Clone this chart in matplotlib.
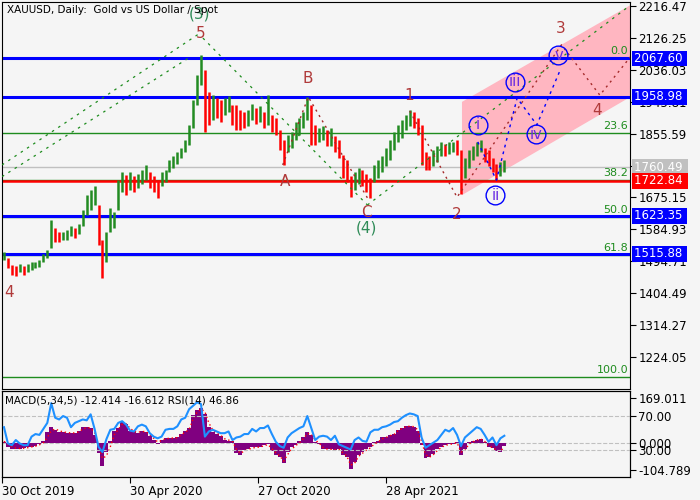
import matplotlib
matplotlib.use("Agg")
import matplotlib.pyplot as plt
import matplotlib.transforms as mtransforms
import numpy as np

# --- price blocks (every 4 trading days) ---
highs = [1521, 1504, 1485, 1482, 1487, 1482, 1487, 1493, 1493, 1499,
         1516, 1527, 1611, 1589, 1578, 1578, 1583, 1595, 1589, 1600,
         1640, 1682, 1696, 1707, 1654, 1555, 1578, 1645, 1634, 1724,
         1747, 1739, 1747, 1736, 1741, 1753, 1767, 1747, 1736, 1724,
         1747, 1753, 1781, 1792, 1803, 1815, 1837, 1880, 1950, 2021,
         2077, 2035, 1973, 1964, 1956, 1950, 1956, 1961, 1936, 1936,
         1922, 1916, 1922, 1939, 1927, 1933, 1916, 1964, 1908, 1899,
         1866, 1837, 1851, 1860, 1888, 1899, 1916, 1959, 1936, 1880,
         1871, 1877, 1866, 1871, 1849, 1837, 1795, 1781, 1736, 1747,
         1758, 1753, 1741, 1730, 1767, 1781, 1792, 1815, 1837, 1860,
         1880, 1894, 1908, 1922, 1916, 1899, 1880, 1803, 1792, 1809,
         1820, 1832, 1826, 1832, 1832, 1837, 1809, 1787, 1809, 1820,
         1832, 1837, 1815, 1809, 1787, 1770, 1775, 1781]
lows = [1499, 1476, 1456, 1454, 1465, 1456, 1465, 1470, 1476, 1479,
        1493, 1504, 1533, 1550, 1550, 1555, 1555, 1567, 1561, 1572,
        1595, 1626, 1640, 1654, 1541, 1448, 1493, 1578, 1589, 1640,
        1691, 1682, 1696, 1691, 1702, 1713, 1724, 1702, 1691, 1674,
        1707, 1719, 1747, 1758, 1770, 1787, 1803, 1823, 1871, 1936,
        1993, 1860, 1880, 1894, 1900, 1888, 1908, 1916, 1880, 1866,
        1866, 1871, 1877, 1894, 1883, 1888, 1871, 1880, 1860, 1851,
        1809, 1767, 1803, 1815, 1837, 1851, 1871, 1894, 1823, 1823,
        1832, 1837, 1820, 1820, 1803, 1787, 1730, 1719, 1676, 1696,
        1713, 1707, 1691, 1674, 1719, 1730, 1747, 1764, 1781, 1809,
        1832, 1843, 1866, 1877, 1871, 1851, 1767, 1753, 1753, 1764,
        1775, 1792, 1792, 1798, 1803, 1795, 1685, 1730, 1758, 1781,
        1792, 1803, 1775, 1764, 1747, 1724, 1736, 1747]

macd = [3, -15, -22, -25, -22, -20, -18, -15, -12, -5,
        5, 40, 58, 50, 42, 40, 38, 36, 38, 45,
        60, 58, 55, 30, -40, -88, -35, 5, 45, 55,
        80, 70, 45, 40, 38, 45, 42, 25, 12, -4,
        12, 17, 18, 18, 20, 35, 45, 55, 105, 125,
        132, 110, 60, 40, 35, 25, 12, 8, 5, -40,
        -45, -28, -25, -18, -18, -15, -10, -5, -30, -45,
        -55, -78, -35, -18, -8, 5, 20, 42, 30, 2,
        -5, -25, -25, -25, -28, -25, -45, -55, -100, -72,
        -45, -35, -25, -18, 2, 5, 20, 22, 30, 32,
        50, 57, 62, 65, 60, 45, -10, -57, -55, -42,
        -25, -15, -8, -6, -3, 2, -47, -25, 3, 5,
        12, 15, 2, -18, -20, -30, -35, -12]
signal = [5, -5, -15, -20, -22, -21, -19, -16, -13, -8,
          0, 20, 45, 52, 46, 41, 39, 37, 37, 41,
          52, 57, 56, 40, -10, -60, -50, -15, 30, 50,
          70, 72, 55, 43, 40, 42, 43, 30, 17, 3,
          8, 15, 17, 18, 19, 30, 40, 50, 90, 115,
          128, 118, 75, 48, 37, 28, 15, 10, 6, -25,
          -40, -32, -26, -20, -18, -16, -12, -7, -22, -38,
          -50, -70, -45, -25, -12, 0, 15, 35, 33, 10,
          -2, -18, -24, -25, -27, -25, -38, -50, -85, -78,
          -52, -40, -28, -20, -5, 3, 15, 20, 27, 31,
          45, 54, 60, 63, 61, 50, 5, -45, -55, -45,
          -30, -18, -10, -7, -4, 0, -35, -30, -5, 3,
          10, 14, 5, -12, -18, -27, -32, -17]
rsi = [57, 38, 36, 42, 38, 36, 36, 46, 49, 48,
       55, 62, 85, 68, 66, 70, 68, 57, 62, 64,
       66, 65, 72, 55, 34, 28, 43, 54, 55, 62,
       64, 60, 53, 52, 58, 60, 58, 50, 46, 44,
       46, 54, 55, 55, 58, 66, 68, 78, 82, 86,
       84, 46, 52, 54, 52, 50, 50, 52, 42, 45,
       46, 49, 49, 55, 52, 56, 56, 59, 49, 40,
       35, 33, 45, 50, 53, 56, 58, 70, 56, 42,
       46, 47, 46, 42, 47, 37, 35, 33, 31, 42,
       45, 41, 40, 51, 54, 54, 57, 58, 60, 63,
       64, 68, 71, 73, 72, 70, 45, 33, 36, 39,
       42, 48, 54, 52, 56, 48, 35, 45, 49, 53,
       57, 55, 48, 40, 45, 36, 44, 47]

date_ticks = [0, 130, 260, 390]
date_labels = ["30 Oct 2019", "30 Apr 2020", "27 Oct 2020", "28 Apr 2021"]
price_ticks = [2216.47, 2126.25, 2036.03, 1945.81, 1855.59, 1765.37,
               1675.15, 1584.93, 1494.71, 1404.49, 1314.27, 1224.05]

# horizontal levels
blue_levels = [2067.60, 1958.98, 1623.35, 1515.88]
red_level = 1722.84
bid_level = 1760.49
fib_names = ["0.0", "23.6", "38.2", "50.0", "61.8", "100.0"]
fib_prices = [2069.0, 1857.0, 1725.4, 1619.3, 1513.1, 1169.5]

# wave marks (day, price)
wave_text = ["(3)", "5", "B", "A", "C", "(4)", "1", "2", "3", "4", "4"]
wave_x = [201, 202, 310, 287, 370, 370, 413, 462, 567, 604, 7]
wave_y = [2193, 2139, 2012, 1719, 1634, 1589, 1964, 1626, 2153, 1922, 1406]
sub_text = ["i", "ii", "iii", "iv", "v"]
sub_x = [483, 501, 521, 542, 565]
sub_y = [1880, 1682, 2002, 1854, 2077]

trend_lines = [((0, 201), (1767, 2139)),
               ((0, 189), (1734, 2068)),
               ((204, 371), (2125, 1654)),
               ((371, 638), (1654, 2218))]
brown_path_x = [285, 311, 371]
brown_path_y = [1767, 1959, 1674]
brown_path2_x = [414, 462, 568, 607, 638]
brown_path2_y = [1919, 1676, 2106, 1964, 2072]
blue_path_x = [483, 502, 523, 543, 566]
blue_path_y = [1832, 1724, 1956, 1880, 2030]
channel_x = [467, 638, 638, 467]
channel_y = [1945, 2218, 1959, 1682]

bg = "#f5f5f5"
plt.rcParams["font.family"] = ["DejaVu Sans"]

fig = plt.figure(figsize=(7, 5), dpi=100, facecolor=bg)
ax = fig.add_axes([2 / 700, 1 - 389 / 500, 628 / 700, 387 / 500], facecolor=bg)
ax2 = fig.add_axes([2 / 700, 1 - 477 / 500, 628 / 700, 86 / 500], facecolor=bg)

days = np.arange(len(highs)) * 4 + 2
highs_a = np.array(highs)
lows_a = np.array(lows)
mids = (highs_a + lows_a) / 2

# channel
ax.fill(channel_x, channel_y, color="#ffb6c1", lw=0, zorder=1)

# levels
for p in fib_prices:
    ax.axhline(p, color="#1e8c1e", lw=1, zorder=2)
for p in blue_levels:
    ax.axhline(p, color="#0000ff", lw=2.2, zorder=2)
ax.axhline(bid_level, color="#c0c0c0", lw=1, zorder=2)
ax.axhline(red_level, color="#ff0000", lw=1.8, zorder=2)

for name, p in zip(fib_names, fib_prices):
    ax.annotate(name, (637, p), xytext=(-1, 1.5), textcoords="offset points",
                ha="right", va="bottom", color="#1e8c1e", fontsize=8, zorder=5)

# price bars
colors = ["#228b22"]
for i in range(1, len(mids)):
    colors.append("#228b22" if mids[i] >= mids[i - 1] else "#ff0000")
ax.vlines(days, lows_a, highs_a, colors=colors, lw=1.8, zorder=3)

# trend lines and wave paths
for xs, ys in trend_lines:
    ax.plot(xs, ys, color="#1e8c1e", lw=0.9, ls=(0, (2, 4)), zorder=4)
ax.plot(brown_path_x, brown_path_y, color="#a52a2a", lw=1, ls=(0, (1.5, 3)), zorder=4)
ax.plot(brown_path2_x, brown_path2_y, color="#a52a2a", lw=1, ls=(0, (1.5, 3)), zorder=4)
ax.plot(blue_path_x, blue_path_y, color="#0000ff", lw=1, ls=(0, (2, 3)), zorder=4)

for t, x, y in zip(wave_text, wave_x, wave_y):
    col = "#2e8b57" if t.startswith("(") else "#b03a3a"
    ax.text(x, y, t, color=col, fontsize=11, ha="center", va="center", zorder=6)

ax.plot(sub_x, sub_y, "o", ms=13.5, mfc="none", mec="#0000ff", mew=1, zorder=6)
for t, x, y in zip(sub_text, sub_x, sub_y):
    ax.text(x, y, t, color="#6a2be2", fontsize=10.5, ha="center", va="center", zorder=7)

ax.set_xlim(0, 637.6)
ax.set_ylim(1134.6, 2226.9)
ax.set_xticks([])
ax.yaxis.tick_right()
ax.set_yticks(price_ticks)
ax.set_yticklabels(["%.2f" % v for v in price_ticks])
ax.tick_params(axis="y", labelsize=8.5, length=4, pad=2)

# value boxes on the price scale
tr = mtransforms.blended_transform_factory(ax.transAxes, ax.transData)
boxes = [(p, "#0000ff") for p in blue_levels] + [(bid_level, "#c0c0c0"), (red_level, "#ff0000")]
for p, c in boxes:
    ax.text(1.006, p, "%.2f " % p, transform=tr, ha="left", va="center", color="white",
            fontsize=8.5, clip_on=False, zorder=10,
            bbox=dict(boxstyle="square,pad=0.12", fc=c, ec="none"))

ax.text(0.008, 0.993, "XAUUSD, Daily:  Gold vs US Dollar / Spot", transform=ax.transAxes,
        ha="left", va="top", fontsize=7.5, color="black", zorder=8)

# --- MACD / RSI panel ---
ax3 = ax2.twinx()
ax2.bar(days, macd, width=4, color="#800080", lw=0, zorder=2)
ax2.plot(days, signal, color="#ff0000", lw=1, ls=(0, (1, 2)), zorder=3)
ax2.axhline(0, color="#c0c0c0", lw=0.8, ls="--", zorder=1)
ax2.set_ylim(-130.3, 196.5)
ax2.set_xlim(0, 637.6)
ax2.yaxis.tick_right()
ax2.set_yticks([169.011, 0, -104.789])
ax2.set_yticklabels(["169.011", "0.000", "-104.789"])
ax2.tick_params(axis="y", labelsize=8.5, length=4, pad=2)
ax2.set_xticks(date_ticks)
ax2.set_xticklabels(date_labels)
for lbl in ax2.get_xticklabels():
    lbl.set_ha("left")
ax2.tick_params(axis="x", labelsize=8.5, length=4, pad=2)

ax3.plot(days, rsi, color="#1e90ff", lw=1.5, zorder=4)
ax3.axhline(70, color="#c0c0c0", lw=0.8, ls="--")
ax3.axhline(30, color="#c0c0c0", lw=0.8, ls="--")
ax3.set_ylim(-1.1, 99.2)
ax3.set_yticks([70, 30])
ax3.set_yticklabels(["70.00", "30.00"])
ax3.tick_params(axis="y", labelsize=8.5, length=4, pad=2)

ax3.text(0.005, 0.95, "MACD(5,34,5) -12.414 -16.612 RSI(14) 46.86", transform=ax2.transAxes,
         ha="left", va="top", fontsize=7.5, color="black", zorder=8)

fig.savefig("out.png", dpi=100, facecolor=bg)
